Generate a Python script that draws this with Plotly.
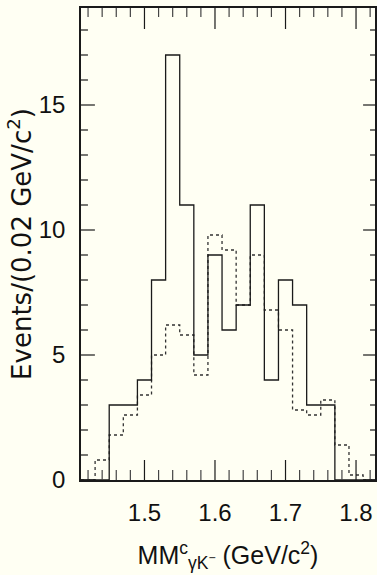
import plotly.graph_objects as go

# Bin lower edges (GeV/c^2), bin width 0.02
bin_edges = [1.41, 1.43, 1.45, 1.47, 1.49, 1.51, 1.53, 1.55, 1.57, 1.59, 1.61,
             1.63, 1.65, 1.67, 1.69, 1.71, 1.73, 1.75, 1.77, 1.79, 1.81, 1.83]
# Solid histogram (data)
data_counts = [0, 0, 3, 3, 4, 8, 17, 11, 5, 9, 6, 7, 11, 4, 8, 7, 3, 3, 0, 0, 0]
# Dotted histogram (expectation)
mc_counts = [0, 0.8, 1.8, 2.6, 3.4, 5.0, 6.2, 5.8, 4.2, 9.8, 9.2, 7.0, 9.0, 6.8,
             6.0, 2.8, 2.6, 3.2, 1.4, 0.2, 0]

x_major_ticks = [1.5, 1.6, 1.7, 1.8]
x_tick_labels = ["1.5", "1.6", "1.7", "1.8"]
x_minor_ticks = [1.42, 1.44, 1.46, 1.48, 1.52, 1.54, 1.56, 1.58, 1.62, 1.64,
                 1.66, 1.68, 1.72, 1.74, 1.76, 1.78, 1.82]
y_major_ticks = [0, 5, 10, 15]
y_tick_labels = ["0", "5", "10", "15"]
y_minor_ticks = [1, 2, 3, 4, 6, 7, 8, 9, 11, 12, 13, 14, 16, 17, 18]

X_RANGE = [1.41, 1.8269]
Y_RANGE = [0, 18.88]

W, H = 377, 575
ML, MR, MT, MB = 81, 0, 8, 95
PW, PH = W - ML - MR, H - MT - MB

BG = "#fffff3"
INK = "#1a1a1a"
FONT = "Liberation Sans"

fig = go.Figure()
fig.add_trace(go.Scatter(
    x=bin_edges, y=mc_counts + [mc_counts[-1]],
    mode="lines", line=dict(shape="hv", color="#333333", width=1.3, dash="dot"),
    hoverinfo="skip", showlegend=False))
fig.add_trace(go.Scatter(
    x=bin_edges, y=data_counts + [data_counts[-1]],
    mode="lines", line=dict(shape="hv", color=INK, width=1.3),
    hoverinfo="skip", showlegend=False))


def seg_x(vals, a, b):
    xs, ys = [], []
    for v in vals:
        xs += [v, v, None]
        ys += [a, b, None]
    return xs, ys


def seg_y(vals, a, b):
    xs, ys = [], []
    for v in vals:
        xs += [a, b, None]
        ys += [v, v, None]
    return xs, ys


# Inward tick marks: positions in data units, lengths in pixels (on pixel-scaled overlay axes)
tick_sets = [
    # (orientation, values, start px, end px, colour)
    ("x", x_minor_ticks, 0, 10, "#444444"),
    ("x", x_major_ticks, 0, 20, INK),
    ("x", x_minor_ticks, PH, PH - 9, "#444444"),
    ("x", x_major_ticks, PH, PH - 21, INK),
    ("y", y_minor_ticks, 0, 7, INK),
    ("y", y_major_ticks, 0, 14, INK),
    ("y", y_minor_ticks, PW, PW - 5, INK),
    ("y", y_major_ticks, PW, PW - 12, INK),
]
for orient, vals, a, b, col in tick_sets:
    if orient == "x":
        xs, ys = seg_x(vals, a, b)
        fig.add_trace(go.Scatter(x=xs, y=ys, xaxis="x", yaxis="y2", mode="lines",
                                 line=dict(color=col, width=1.2), hoverinfo="skip",
                                 showlegend=False))
    else:
        xs, ys = seg_y(vals, a, b)
        fig.add_trace(go.Scatter(x=xs, y=ys, xaxis="x2", yaxis="y", mode="lines",
                                 line=dict(color=col, width=1.2), hoverinfo="skip",
                                 showlegend=False))

fig.update_layout(
    width=W, height=H,
    margin=dict(l=ML, r=MR, t=MT, b=MB),
    paper_bgcolor=BG, plot_bgcolor=BG,
    showlegend=False,
    xaxis=dict(
        range=X_RANGE, showgrid=False, zeroline=False,
        showline=True, linecolor=INK, linewidth=1.5, mirror=True,
        ticks="", tickmode="array", tickvals=x_major_ticks, ticktext=x_tick_labels,
        tickfont=dict(family=FONT, size=24, color="#111111"),
        ticklabelstandoff=10,
        title=dict(text="MM<sup>c</sup><sub>γK<sup>−</sup></sub> (GeV/c<sup>2</sup>)",
                   font=dict(family=FONT, size=25, color="#111111"), standoff=22),
    ),
    yaxis=dict(
        range=Y_RANGE, showgrid=False, zeroline=False,
        showline=True, linecolor=INK, linewidth=1.5, mirror=True,
        ticks="", tickmode="array", tickvals=y_major_ticks, ticktext=y_tick_labels,
        tickfont=dict(family=FONT, size=24, color="#111111"),
        ticklabelstandoff=9,
        title=dict(text="Events/(0.02 GeV/c<sup>2</sup>)",
                   font=dict(family="DejaVu Sans", size=26, color="#111111"),
                   standoff=0),
    ),
    xaxis2=dict(range=[0, PW], overlaying="x", anchor="y", visible=False),
    yaxis2=dict(range=[0, PH], overlaying="y", anchor="x", visible=False),
)

fig.write_html("out.html")
